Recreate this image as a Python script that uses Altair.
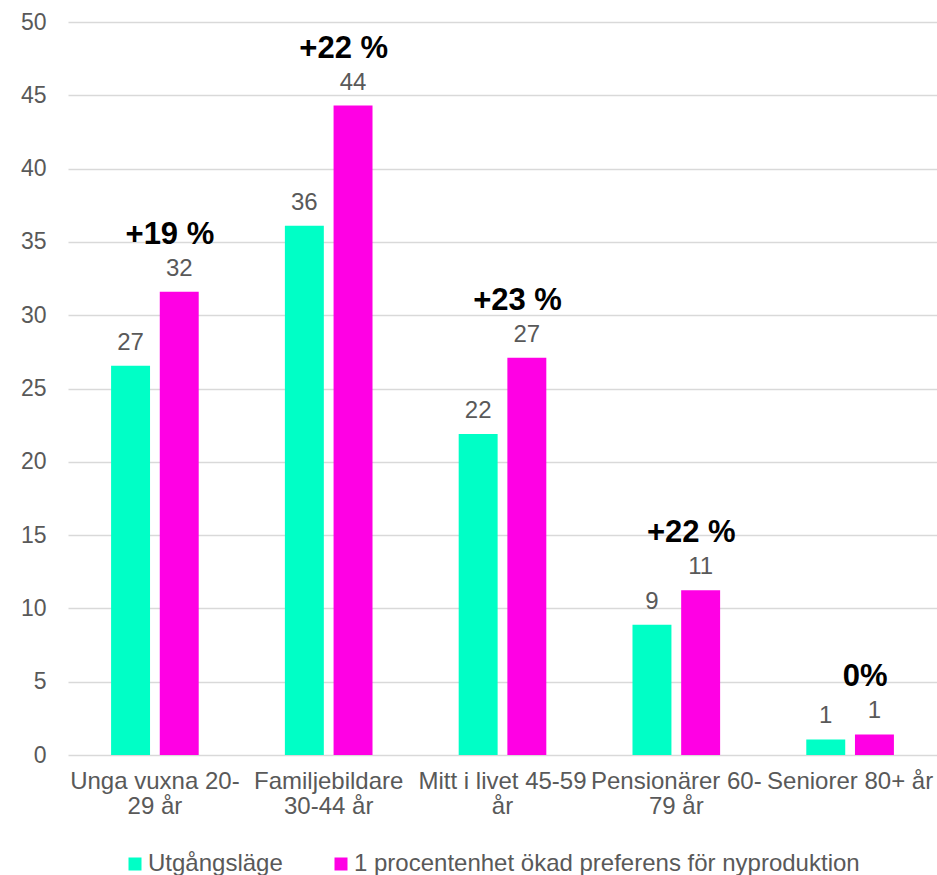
import altair as alt
import pandas as pd

categories = ["Unga vuxna 20-29 år", "Familjebildare 30-44 år", "Mitt i livet 45-59 år",
              "Pensionärer 60-79 år", "Seniorer 80+ år"]
category_lines = [["Unga vuxna 20-", "29 år"], ["Familjebildare", "30-44 år"],
                  ["Mitt i livet 45-59", "år"], ["Pensionärer 60-", "79 år"], ["Seniorer 80+ år"]]
series = ["Utgångsläge", "1 procentenhet ökad preferens för nyproduktion"]
base_values = [26.55, 36.1, 21.9, 8.89, 1.06]
new_values = [31.6, 44.3, 27.1, 11.23, 1.40]
changes = ["+19 %", "+22 %", "+23 %", "+22 %", "0%"]
colors = ["#00FFC6", "#FF00E4"]

FONT = "Liberation Sans"
GRAY = "#595959"

rows = []
for c, v in zip(categories, base_values):
    rows.append({"category": c, "series": series[0], "value": v})
for c, v in zip(categories, new_values):
    rows.append({"category": c, "series": series[1], "value": v})
df = pd.DataFrame(rows)
df["label"] = df["value"].round(0).astype(int).astype(str)

ann = pd.DataFrame({"category": categories, "value": new_values, "text": changes})

expr = "''"
for c, lines in reversed(list(zip(categories, category_lines))):
    arr = "[" + ",".join("'" + s + "'" for s in lines) + "]"
    expr = f"datum.value == '{c}' ? {arr} : ({expr})"

x = alt.X("category:N", sort=categories, title=None,
          scale=alt.Scale(paddingInner=0, paddingOuter=0),
          axis=alt.Axis(labelExpr=expr, labelAngle=0, labelFont=FONT, labelFontSize=24,
                        labelColor=GRAY, labelPadding=14, labelLineHeight=25, ticks=False,
                        domain=False, labelOverlap=False, labelBound=False, labelLimit=400))
xoff = alt.XOffset("series:N", sort=series,
                   scale=alt.Scale(paddingInner=0.2, paddingOuter=0.885))
y = alt.Y("value:Q", title=None,
          scale=alt.Scale(domain=[0, 50], nice=False),
          axis=alt.Axis(values=list(range(0, 55, 5)), labelFont=FONT, labelFontSize=23,
                        labelColor=GRAY, labelPadding=22, ticks=False, domain=False,
                        gridColor="#D9D9D9", gridWidth=1.3))

bars = alt.Chart(df).mark_bar().encode(
    x=x, xOffset=xoff, y=y,
    color=alt.Color("series:N", sort=series,
                    scale=alt.Scale(domain=series, range=colors),
                    legend=alt.Legend(orient="none", legendX=55, legendY=830,
                                      direction="horizontal", title=None,
                                      symbolType="square", symbolSize=169,
                                      symbolStrokeWidth=0, labelFont=FONT,
                                      labelFontSize=24, labelColor=GRAY,
                                      columnPadding=46, labelOffset=1, labelLimit=700))
)

labels = alt.Chart(df).mark_text(font=FONT, fontSize=24, color=GRAY, baseline="alphabetic",
                                 dy=-16).encode(
    x=alt.X("category:N", sort=categories), xOffset=alt.XOffset("series:N", sort=series),
    y="value:Q", text="label:N")

annots = alt.Chart(ann).mark_text(font=FONT, fontSize=31, fontWeight="bold", color="#000000",
                                  baseline="middle", dy=-57, dx=15).encode(
    x=alt.X("category:N", sort=categories), y="value:Q", text="text:N")

chart = alt.layer(bars, labels, annots).properties(
    width=869, height=733,
    padding={"left": 68, "top": 22, "right": 0, "bottom": 120},
    autosize=alt.AutoSizeParams(type="none"),
    background="white",
).configure_view(stroke=None)

chart.save("out.html", embed_options={"renderer": "svg", "actions": False})
